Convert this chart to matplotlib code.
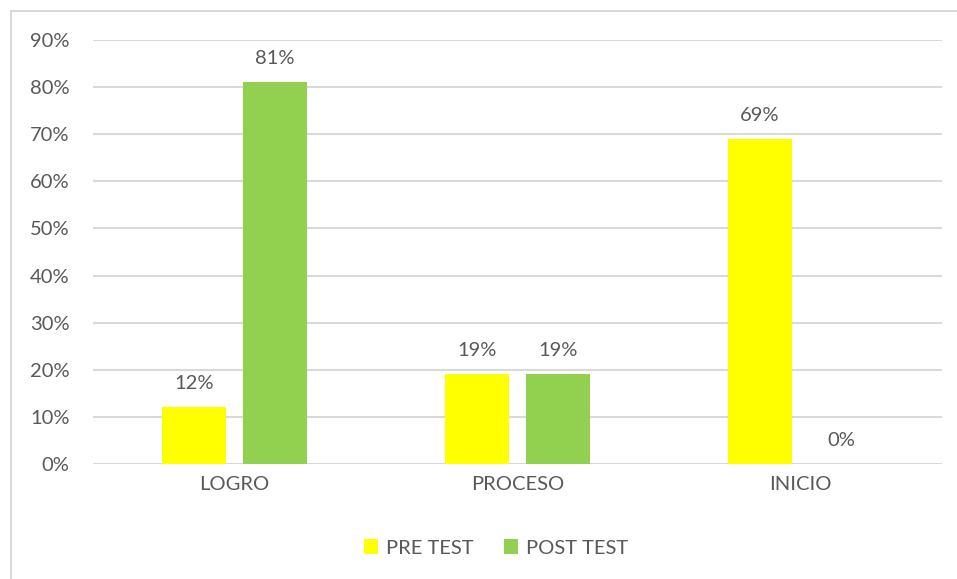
import numpy as np
import matplotlib.pyplot as plt
from matplotlib.patches import Rectangle

categories = ['LOGRO', 'PROCESO', 'INICIO']
pre_test = [12, 19, 69]
post_test = [81, 19, 0]
series_names = ['PRE TEST', 'POST TEST']

plt.rcParams['font.family'] = ['Lato', 'DejaVu Sans']
text_color = '#595959'
fs = 14.5

fig = plt.figure(figsize=(9.57, 5.79), dpi=100)
ax = fig.add_axes([93 / 957, 1 - 464 / 579, (942 - 93) / 957, (464 - 40) / 579])

# chart border (cut off on right and bottom like the reference)
fig.patches.append(Rectangle((11 / 957, -0.1), 1.2, 1 - 11 / 579 + 0.1,
                             transform=fig.transFigure, fill=False,
                             edgecolor='#D9D9D9', linewidth=1.5))

x = np.arange(len(categories))
w = 0.223
off = 0.143
b1 = ax.bar(x - off, pre_test, w, color='#FFFF00', label=series_names[0], zorder=3)
b2 = ax.bar(x + off, post_test, w, color='#92D050', label=series_names[1], zorder=3)

for bars in (b1, b2):
    for rect in bars:
        h = rect.get_height()
        ax.annotate(f'{h:.0f}%', (rect.get_x() + rect.get_width() / 2, h),
                    xytext=(0, 11), textcoords='offset points',
                    ha='center', va='bottom', fontsize=fs, color=text_color)

ax.set_xlim(-0.5, 2.5)
ax.set_ylim(0, 90)
ax.set_yticks(range(0, 91, 10))
ax.set_yticklabels([f'{v}%' for v in range(0, 91, 10)])
ax.set_xticks(x)
ax.set_xticklabels(categories)
ax.tick_params(axis='both', length=0, labelsize=fs, colors=text_color)
ax.tick_params(axis='y', pad=17)
ax.tick_params(axis='x', pad=9)
ax.grid(axis='y', color='#D9D9D9', linewidth=1.5, zorder=0)
for s in ax.spines.values():
    s.set_visible(False)

fig.legend(loc='center', bbox_to_anchor=(496 / 957, 1 - 548 / 579), ncol=2,
           frameon=False, fontsize=fs, labelcolor=text_color,
           handlelength=0.7, handleheight=0.7, handletextpad=0.4, columnspacing=1.5)

fig.savefig('out.png', dpi=100)
